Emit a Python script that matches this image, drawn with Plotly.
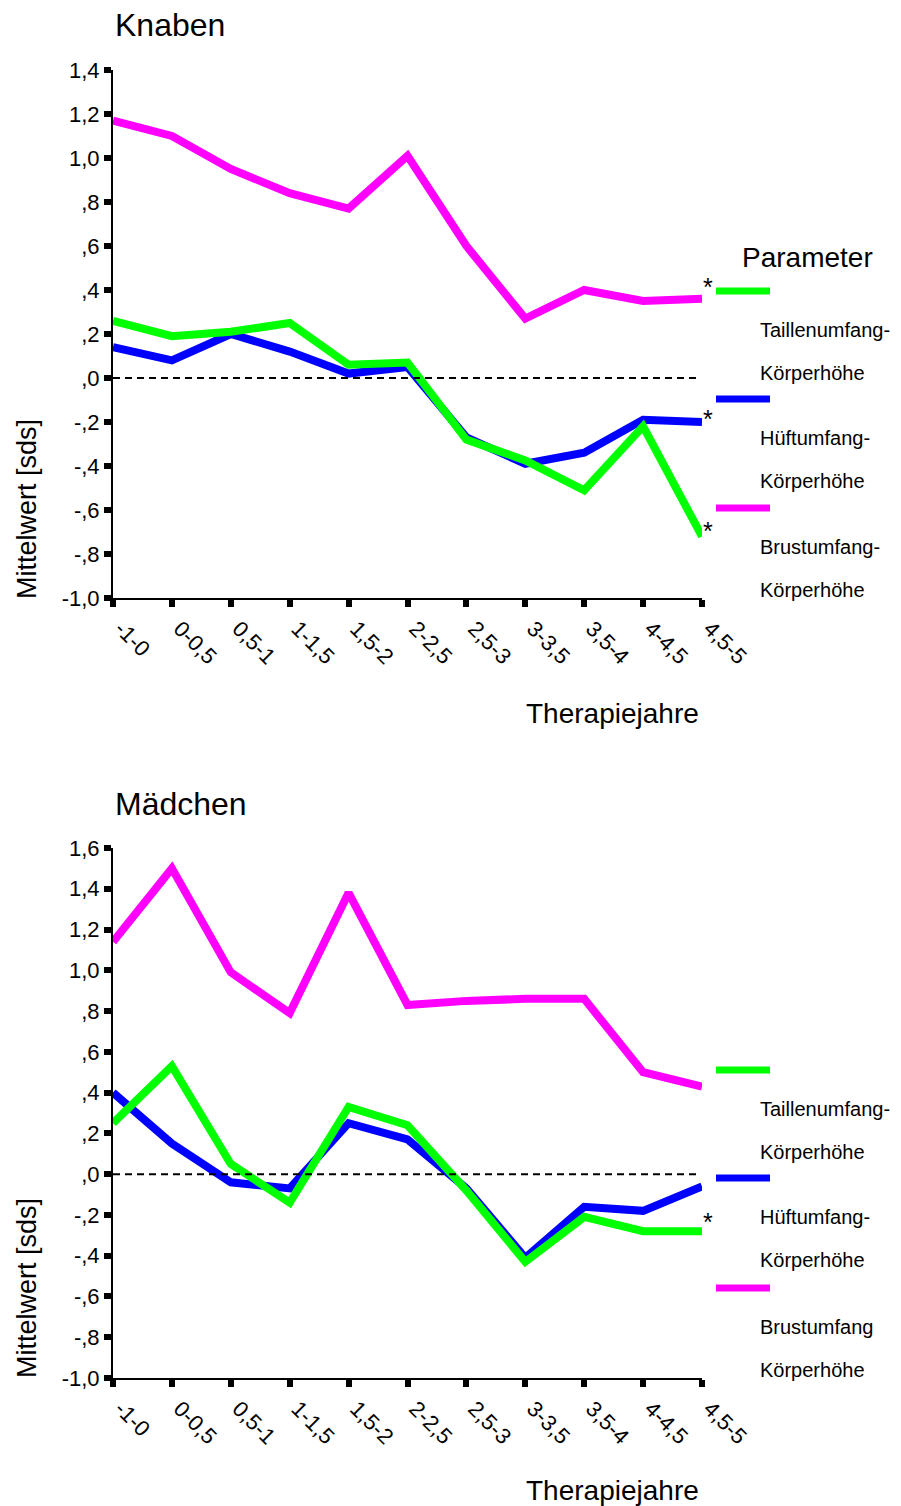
import plotly.graph_objects as go

# ---------------- data ----------------
categories = ["-1-0", "0-0,5", "0,5-1", "1-1,5", "1,5-2", "2-2,5",
              "2,5-3", "3-3,5", "3,5-4", "4-4,5", "4,5-5"]

series_names = ["Taillenumfang-Körperhöhe", "Hüftumfang-Körperhöhe", "Brustumfang-Körperhöhe"]
series_colors = ["#00FF00", "#0000FF", "#FF00FF"]

# Knaben (boys)
knaben_taille = [0.26, 0.19, 0.21, 0.25, 0.06, 0.07, -0.28, -0.375, -0.51, -0.22, -0.72]
knaben_huefte = [0.14, 0.08, 0.20, 0.12, 0.02, 0.05, -0.27, -0.39, -0.34, -0.19, -0.20]
knaben_brust  = [1.17, 1.10, 0.95, 0.84, 0.77, 1.01, 0.60, 0.27, 0.40, 0.35, 0.36]

# Mädchen (girls)
maedchen_taille = [0.25, 0.53, 0.05, -0.14, 0.33, 0.24, -0.08, -0.43, -0.21, -0.28, -0.28]
maedchen_huefte = [0.40, 0.15, -0.04, -0.07, 0.25, 0.17, -0.07, -0.41, -0.16, -0.18, -0.06]
maedchen_brust  = [1.14, 1.50, 0.99, 0.79, 1.38, 0.83, 0.85, 0.86, 0.86, 0.50, 0.43]

knaben_ticks = [-1.0, -0.8, -0.6, -0.4, -0.2, 0.0, 0.2, 0.4, 0.6, 0.8, 1.0, 1.2, 1.4]
knaben_ticktext = ["-1,0", "-,8", "-,6", "-,4", "-,2", ",0", ",2", ",4", ",6", ",8", "1,0", "1,2", "1,4"]
maedchen_ticks = [-1.0, -0.8, -0.6, -0.4, -0.2, 0.0, 0.2, 0.4, 0.6, 0.8, 1.0, 1.2, 1.4, 1.6]
maedchen_ticktext = ["-1,0", "-,8", "-,6", "-,4", "-,2", ",0", ",2", ",4", ",6", ",8", "1,0", "1,2", "1,4", "1,6"]

panel_titles = ["Knaben", "Mädchen"]
y_title = "Mittelwert [sds]"
x_title = "Therapiejahre"
legend_title = "Parameter"
legend_labels_knaben = [["Taillenumfang-", "Körperhöhe"], ["Hüftumfang-", "Körperhöhe"], ["Brustumfang-", "Körperhöhe"]]
legend_labels_maedchen = [["Taillenumfang-", "Körperhöhe"], ["Hüftumfang-", "Körperhöhe"], ["Brustumfang", "Körperhöhe"]]

# ---------------- layout helpers (page pixel -> paper) ----------------
OFF = 8                      # page body margin offset
W, H = 901 - OFF, 1506 - OFF
L, R, T, B = 113, 702, 70, 1378   # plot edges in page pixels

def px(x):
    return (x - L) / (R - L)

def py(y):
    return (B - y) / (B - T)

FONT = "Liberation Sans, Arial, sans-serif"

fig = go.Figure()

def add_panel(xa, ya, taille, huefte, brust):
    for vals, col, name in [(brust, series_colors[2], series_names[2]),
                            (huefte, series_colors[1], series_names[1]),
                            (taille, series_colors[0], series_names[0])]:
        fig.add_trace(go.Scatter(x=categories, y=vals, mode="lines", name=name,
                                 line=dict(color=col, width=8),
                                 xaxis=xa, yaxis=ya, showlegend=False,
                                 hoverinfo="skip"))

add_panel("x", "y", knaben_taille, knaben_huefte, knaben_brust)
add_panel("x2", "y2", maedchen_taille, maedchen_huefte, maedchen_brust)

axis_common = dict(showgrid=False, zeroline=False, showline=True, linecolor="black", linewidth=2,
                   ticks="outside", ticklen=7, tickwidth=6, tickcolor="black",
                   tickfont=dict(family=FONT, size=22, color="black"))

xcommon = dict(axis_common, type="category", range=[0, 10], tickangle=45,
               tickvals=categories, ticktext=categories, ticklabelshift=8)

fig.update_layout(
    width=W, height=H,
    margin=dict(l=L - OFF, r=W - (R - OFF), t=T - OFF, b=H - (B - OFF)),
    paper_bgcolor="white", plot_bgcolor="white",
    showlegend=False,
    xaxis=dict(xcommon, domain=[0, 1], anchor="y"),
    yaxis=dict(axis_common, domain=[py(598), 1], range=[-1.0, 1.4], anchor="x",
               tickvals=knaben_ticks, ticktext=knaben_ticktext),
    xaxis2=dict(xcommon, domain=[0, 1], anchor="y2"),
    yaxis2=dict(axis_common, domain=[0, py(848)], range=[-1.0, 1.6], anchor="x2",
                tickvals=maedchen_ticks, ticktext=maedchen_ticktext),
)

# dashed zero lines
for xr, yr in [("x domain", "y"), ("x2 domain", "y2")]:
    fig.add_shape(type="line", xref=xr, yref=yr, x0=0, x1=px(697), y0=0, y1=0,
                  line=dict(color="black", width=2, dash="7px,5px"))

ann = []
def text(x, y, s, size, xanchor="left", yanchor="middle", angle=0):
    ann.append(dict(x=px(x), y=py(y), xref="paper", yref="paper", text=s, showarrow=False,
                    xanchor=xanchor, yanchor=yanchor, textangle=angle,
                    font=dict(family=FONT, size=size, color="black")))

# titles
text(113, 25, panel_titles[0], 32)
text(113, 804, panel_titles[1], 32)
# axis titles
text(27, 509, y_title, 27, xanchor="center", angle=-90)
text(27, 1288, y_title, 27, xanchor="center", angle=-90)
text(612, 713, x_title, 28, xanchor="center")
text(612, 1490, x_title, 28, xanchor="center")
# legend
text(807, 257, legend_title, 28, xanchor="center")

def legend(line_ys, label_pairs):
    for ly, col, pair in zip(line_ys, series_colors, label_pairs):
        fig.add_shape(type="line", xref="paper", yref="paper", x0=px(716), x1=px(770),
                      y0=py(ly), y1=py(ly), line=dict(color=col, width=7))
        text(758, ly + 39, pair[0], 20)
        text(758, ly + 82, pair[1], 20)

legend([291, 399, 508], legend_labels_knaben)
legend([1070, 1178, 1288], legend_labels_maedchen)

# significance asterisks
for (ax_, ay_) in [(708, 287), (708, 419), (708, 531), (708, 1222)]:
    text(ax_, ay_, "*", 25, xanchor="center")

fig.update_layout(annotations=ann)
fig.write_html("out.html")
